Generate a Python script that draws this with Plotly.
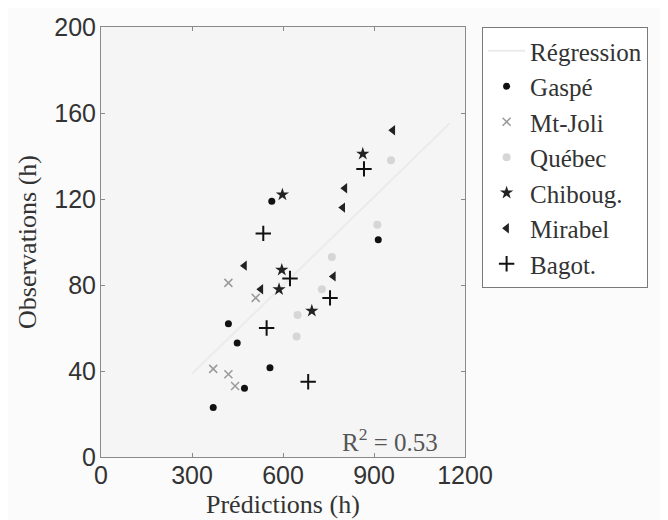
import plotly.graph_objects as go

# Data (Predictions h, Observations h)
reg_x = [300, 1150]
reg_y = [38.7, 155.2]

gaspe_x = [563, 914, 420, 449, 557, 473, 370]
gaspe_y = [119, 101, 62, 53, 41.5, 32, 23]

mtjoli_x = [420, 510, 370, 420, 442]
mtjoli_y = [81, 74, 41, 38.5, 33]

quebec_x = [761, 956, 911, 728, 648, 645]
quebec_y = [93, 138, 108, 78, 66, 56]

chiboug_x = [598, 863, 596, 587, 695]
chiboug_y = [122, 141, 87, 78, 68]

mirabel_x = [962, 804, 797, 766, 473, 527]
mirabel_y = [152, 125, 116, 84, 89, 78]

bagot_x = [535, 623, 867, 755, 546, 683]
bagot_y = [104, 83, 134, 74, 60, 35]

x_ticks = [0, 300, 600, 900, 1200]
y_ticks = [0, 40, 80, 120, 160, 200]

serif = "Liberation Serif, Times New Roman, serif"
sans = "Liberation Sans, Arial, sans-serif"

fig = go.Figure()
fig.add_trace(go.Scatter(x=reg_x, y=reg_y, mode="lines", name="Régression",
                         line=dict(color="#ebebeb", width=2)))
fig.add_trace(go.Scatter(x=gaspe_x, y=gaspe_y, mode="markers", name="Gaspé",
                         marker=dict(symbol="circle", size=7, color="#111")))
fig.add_trace(go.Scatter(x=mtjoli_x, y=mtjoli_y, mode="markers", name="Mt-Joli",
                         marker=dict(symbol="x-thin-open", size=8, color="#9a9a9a",
                                     line=dict(width=1.5, color="#9a9a9a"))))
fig.add_trace(go.Scatter(x=quebec_x, y=quebec_y, mode="markers", name="Québec",
                         marker=dict(symbol="circle", size=8, color="#d6d6d6")))
fig.add_trace(go.Scatter(x=chiboug_x, y=chiboug_y, mode="markers", name="Chiboug.",
                         marker=dict(symbol="star", size=10, color="#222")))
fig.add_trace(go.Scatter(x=mirabel_x, y=mirabel_y, mode="markers", name="Mirabel",
                         marker=dict(symbol="triangle-left", size=9, color="#222")))
fig.add_trace(go.Scatter(x=bagot_x, y=bagot_y, mode="markers", name="Bagot.",
                         marker=dict(symbol="cross-thin-open", size=11, color="#111",
                                     line=dict(width=2, color="#111"))))

fig.add_annotation(x=1118, y=8, xref="x", yref="y", text="R<sup>2</sup> = 0.53",
                   showarrow=False, xanchor="right", yanchor="middle",
                   font=dict(family=serif, size=25, color="#555"))

# axis titles
fig.add_annotation(x=0, y=0.5, xref="paper", yref="paper", xshift=-74,
                   text="Observations (h)", textangle=-90, showarrow=False,
                   xanchor="center", yanchor="middle",
                   font=dict(family=serif, size=26, color="#333"))
fig.add_annotation(x=0.5, y=0, xref="paper", yref="paper", yshift=-47,
                   text="Prédictions (h)", showarrow=False,
                   xanchor="center", yanchor="middle",
                   font=dict(family=serif, size=26, color="#333"))

axis_common = dict(showgrid=False, zeroline=False, showline=True, linecolor="#8a8a8a",
                   linewidth=1, mirror="ticks", ticks="inside", ticklen=4,
                   tickcolor="#8a8a8a", automargin=False,
                   tickfont=dict(family=sans, size=25, color="#333"))

fig.update_xaxes(range=[0, 1200], tickvals=x_ticks, ticktext=[str(v) for v in x_ticks],
                 ticklabelstandoff=-4, **axis_common)
fig.update_yaxes(range=[0, 200], tickvals=y_ticks, ticktext=[str(v) for v in y_ticks],
                 ticklabelstandoff=-1, **axis_common)

fig.update_layout(
    width=660, height=512,
    margin=dict(l=93, r=203, t=19, b=63),
    paper_bgcolor="#fbfbfb", plot_bgcolor="#f5f5f5",
    showlegend=True,
    legend=dict(x=1.047, y=1.0, xanchor="left", yanchor="top",
                font=dict(family=serif, size=25, color="#333"),
                bordercolor="#7a7a7a", borderwidth=1, bgcolor="#ffffff",
                itemwidth=37, tracegroupgap=0),
)

fig.write_html("out.html")
